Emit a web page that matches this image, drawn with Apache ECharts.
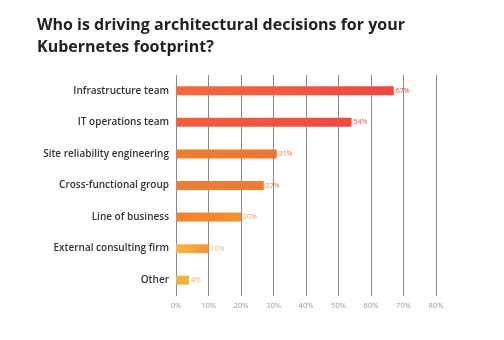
<!DOCTYPE html>
<html>
<head>
<meta charset="utf-8">
<script src="https://cdn.jsdelivr.net/npm/echarts@6/dist/echarts.min.js"></script>
<style>
    html, body { margin: 0; padding: 0; background: #fff; }
    #chart { width: 504px; height: 340px; }
</style>
</head>
<body>
<div id="chart"></div>
<script>
    // data
    var categories = ['Infrastructure team', 'IT operations team', 'Site reliability engineering',
        'Cross-functional group', 'Line of business', 'External consulting firm', 'Other'];
    var values = [67, 54, 31, 27, 20, 10, 4];
    var xTicks = [0, 10, 20, 30, 40, 50, 60, 70, 80];
    // bar colours, start -> end of gradient
    var barFrom = ['#f96a3a', '#f5603c', '#ee7e2e', '#f07c33', '#f4822c', '#f6b83c', '#f1b33c'];
    var barTo = ['#f2453f', '#f24741', '#f0752c', '#ef7a30', '#f78e2c', '#f7923a', '#f0b33a'];
    var labelColors = ['#f2453f', '#f2473f', '#ef7530', '#f08038', '#f5a05a', '#f6b070', '#f0b850'];

    var chart = echarts.init(document.getElementById('chart'));
    var font = '"Open Sans", Lato, sans-serif';

    var seriesData = values.map(function (v, i) {
        return {
            value: v,
            itemStyle: {
                color: new echarts.graphic.LinearGradient(0, 0, 1, 0, [
                    { offset: 0, color: barFrom[i] },
                    { offset: 1, color: barTo[i] }
                ])
            },
            label: { color: labelColors[i] }
        };
    });

    chart.setOption({
        animation: false,
        title: {
            text: 'Who is driving architectural decisions for your\nKubernetes footprint?',
            left: 37,
            top: 14,
            padding: 0,
            textStyle: {
                fontFamily: font,
                fontSize: 16,
                fontWeight: 'bold',
                color: '#222',
                lineHeight: 22
            }
        },
        grid: {
            left: 176,
            right: 68,
            top: 75,
            height: 221
        },
        xAxis: {
            type: 'value',
            min: xTicks[0],
            max: xTicks[xTicks.length - 1],
            interval: 10,
            axisLine: { show: false },
            axisTick: { show: false },
            splitLine: { show: true, lineStyle: { color: '#8a8a8a', width: 1 } },
            axisLabel: {
                margin: 6,
                fontFamily: font,
                fontSize: 7.5,
                color: '#999',
                formatter: '{value}%'
            }
        },
        yAxis: {
            type: 'category',
            inverse: true,
            data: categories,
            axisLine: { show: false },
            axisTick: { show: false },
            axisLabel: {
                margin: 7,
                fontFamily: font,
                fontSize: 10,
                fontWeight: 600,
                color: '#333'
            }
        },
        series: [{
            type: 'bar',
            barWidth: 9,
            data: seriesData,
            label: {
                show: true,
                position: 'right',
                distance: 2,
                fontFamily: font,
                fontSize: 7,
                formatter: '{c}%'
            }
        }]
    });
</script>
</body>
</html>
